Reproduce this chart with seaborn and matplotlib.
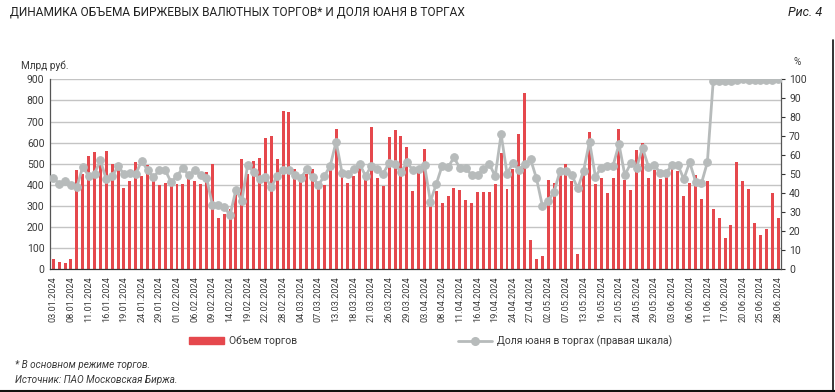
import numpy as np
import pandas as pd
import matplotlib
matplotlib.use("Agg")
import matplotlib.pyplot as plt
from matplotlib.patches import Patch
from matplotlib.lines import Line2D
import seaborn as sns

# ---- data ----
holidays = ["2024-02-23", "2024-03-08", "2024-05-01", "2024-05-09", "2024-06-12"]
extra_days = ["2024-04-27"]
volume = [47, 34, 31, 47, 471, 452, 536, 557, 515, 559,
          500, 478, 387, 419, 508, 444, 492, 424, 399, 408,
          407, 403, 405, 427, 418, 406, 461, 500, 242, 264,
          288, 382, 522, 450, 515, 526, 622, 632, 521, 750,
          746, 474, 417, 453, 474, 404, 399, 470, 666, 443,
          407, 440, 479, 440, 676, 432, 395, 626, 660, 632,
          578, 371, 460, 570, 310, 371, 316, 349, 384, 374,
          327, 313, 368, 366, 365, 404, 553, 380, 475, 641,
          835, 139, 48, 65, 424, 410, 452, 500, 418, 72,
          463, 651, 404, 431, 360, 434, 665, 423, 374, 565,
          597, 434, 470, 428, 440, 474, 466, 347, 407, 447,
          332, 418, 286, 242, 149, 208, 509, 417, 380, 221,
          161, 191, 360, 245]
yuan_share = [48.2, 44.9, 46.6, 44.5, 43.2, 53.9, 49.2, 50.4, 57.3, 47.3,
              49.0, 54.3, 50.1, 50.5, 50.1, 57.2, 52.1, 48.5, 52.1, 52.1,
              45.9, 49.1, 53.4, 49.4, 52.1, 49.6, 48.3, 33.9, 34.0, 33.0,
              28.4, 42.0, 36.0, 55.1, 51.0, 47.4, 48.6, 43.3, 49.2, 52.5,
              52.3, 49.6, 47.9, 52.6, 48.4, 44.4, 49.1, 54.4, 67.2, 50.9,
              50.0, 52.8, 55.4, 49.1, 54.6, 52.6, 50.4, 56.1, 55.3, 51.1,
              56.3, 52.3, 52.9, 54.9, 35.6, 44.9, 54.6, 53.7, 58.9, 53.2,
              53.2, 49.6, 49.6, 52.8, 55.3, 49.1, 71.1, 50.4, 55.8, 52.3,
              55.3, 57.9, 47.9, 33.4, 36.0, 40.9, 51.8, 51.9, 49.6, 42.6,
              51.9, 67.2, 48.8, 53.5, 54.6, 54.6, 65.8, 49.6, 55.8, 53.5,
              64.0, 54.0, 54.9, 50.7, 50.8, 54.9, 54.9, 47.5, 56.3, 46.1,
              45.3, 56.3, 99.3, 99.1, 99.1, 98.9, 99.6, 100.0, 99.8, 99.8,
              99.6, 99.6, 99.8, 100.0]
left_ticks = list(range(0, 1000, 100))
right_ticks = list(range(0, 110, 10))

dates = pd.bdate_range("2024-01-03", "2024-06-28")
dates = dates.drop(pd.to_datetime(holidays)).union(pd.to_datetime(extra_days))
date_labels = [d.strftime("%d.%m.%Y") for d in dates]
n = min(len(dates), len(volume))
df = pd.DataFrame({"pos": np.arange(n), "date": date_labels[:n],
                   "volume": volume[:n], "share": yuan_share[:n]})

# ---- style ----
sns.set_style("white")
plt.rcParams["font.family"] = ["Roboto", "DejaVu Sans"]
RED = "#e5484d"
GREY = "#b7bbbb"
TXT = "#3a3a3a"

fig = plt.figure(figsize=(8.35, 3.92), dpi=100)
ax = fig.add_axes([0.0599, 0.313, 0.935 - 0.0599, 0.7977 - 0.313])

for v in left_ticks[1:]:
    ax.axhline(v, color="#c4c4c4", lw=1.0, zorder=0)

sns.barplot(data=df, x="pos", y="volume", color=RED, width=0.5,
            saturation=1, linewidth=0, ax=ax, zorder=2)
ax.set_xlim(-0.55, n - 1 + 0.45)
ax.set_ylim(0, 900)
ax.set_yticks(left_ticks)
ax.set_yticklabels([str(v) for v in left_ticks], fontsize=7.5, color=TXT)
ax.set_xticks(np.arange(n))
ax.set_xticklabels([date_labels[i] if i % 3 == 0 else "" for i in range(n)],
                   rotation=90, fontsize=6.6, color=TXT)
ax.tick_params(axis="x", length=3, width=0.8, color="#333333", pad=2)
ax.tick_params(axis="y", length=0, pad=4)
ax.set_xlabel("")
ax.set_ylabel("")
for s in ["top", "right"]:
    ax.spines[s].set_visible(False)
ax.spines["left"].set_color("#555555")
ax.spines["bottom"].set_color("#333333")
ax.spines["left"].set_linewidth(0.9)
ax.spines["bottom"].set_linewidth(0.9)

ax2 = ax.twinx()
sns.lineplot(data=df, x="pos", y="share", color=GREY, lw=2.0, marker="o",
             markersize=5.5, markeredgecolor=GREY, ax=ax2, zorder=3)
ax2.set_ylim(0, 100)
ax2.set_yticks(right_ticks)
ax2.set_yticklabels([str(v) for v in right_ticks], fontsize=7.5, color=TXT)
ax2.tick_params(axis="y", length=3, width=0.8, color="#333333", pad=3)
ax2.set_xlabel("")
ax2.set_ylabel("")
ax2.set_xlim(-0.55, n - 1 + 0.45)
for s in ["top", "left", "bottom"]:
    ax2.spines[s].set_visible(False)
ax2.spines["right"].set_color("#555555")
ax2.spines["right"].set_linewidth(0.9)

# ---- texts ----
fig.text(10 / 835, 1 - 12 / 392, "ДИНАМИКА ОБЪЕМА БИРЖЕВЫХ ВАЛЮТНЫХ ТОРГОВ* И ДОЛЯ ЮАНЯ В ТОРГАХ",
         fontsize=8.6, color="#222222", va="center", ha="left",
         family=["Roboto", "DejaVu Sans"])
fig.text(822 / 835, 1 - 12 / 392, "Рис. 4", fontsize=9.0, color="#222222",
         va="center", ha="right", style="italic",
         family=["Roboto", "DejaVu Sans"])
fig.text(21 / 835, 1 - 66 / 392, "Млрд руб.", fontsize=7.2, color=TXT, va="center", ha="left")
fig.text(797 / 835, 1 - 62 / 392, "%", fontsize=7.2, color=TXT, va="center", ha="center")

fig.text(15 / 835, 1 - 365 / 392, "* В основном режиме торгов.", fontsize=7.2,
         color=TXT, style="italic", va="center", ha="left")
fig.text(15 / 835, 1 - 380 / 392, "Источник: ПАО Московская Биржа.", fontsize=7.2,
         color=TXT, style="italic", va="center", ha="left")

# ---- legends ----
h1 = [Patch(facecolor=RED, edgecolor=RED)]
h2 = [Line2D([0], [0], color=GREY, lw=2.0, marker="o", markersize=5.5)]
fig.legend(h1, ["Объем торгов"], loc="center left",
           bbox_to_anchor=(180 / 835, 1 - 341 / 392), frameon=False,
           fontsize=7.5, handlelength=3.3, handleheight=0.55, handletextpad=0.5,
           labelcolor=TXT)
fig.legend(h2, ["Доля юаня в торгах (правая шкала)"], loc="center left",
           bbox_to_anchor=(449 / 835, 1 - 341 / 392), frameon=False,
           fontsize=7.5, handlelength=3.2, handletextpad=0.5, labelcolor=TXT)

# frame lines (right and bottom)
fig.add_artist(Line2D([0, 1], [1.5 / 392, 1.5 / 392], color="#111111", lw=1.5,
                      transform=fig.transFigure))
fig.add_artist(Line2D([833 / 835, 833 / 835], [0, 1 - 40 / 392], color="#111111",
                      lw=1.2, transform=fig.transFigure))

fig.savefig("out.png", dpi=100)
